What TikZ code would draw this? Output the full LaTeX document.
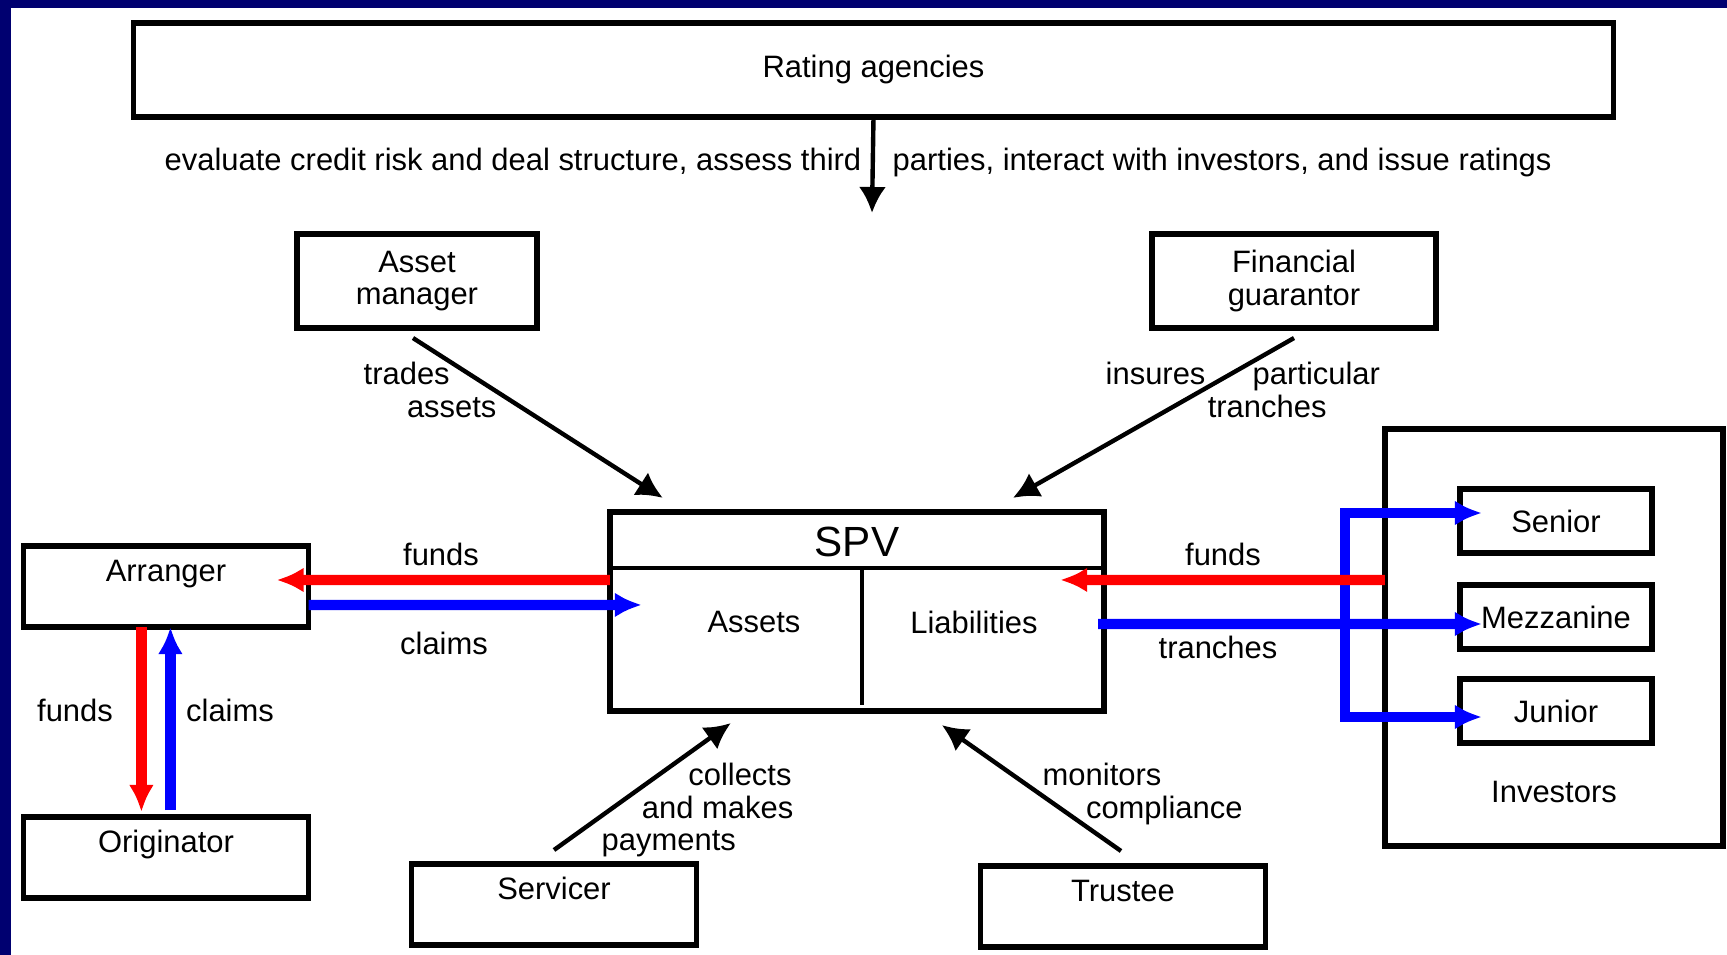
\documentclass[tikz,border=0pt]{standalone}
\usepackage{fontspec}
\setmainfont{Liberation Sans}
\usetikzlibrary{arrows.meta,calc}

\definecolor{slidenavy}{RGB}{0,0,112}
\definecolor{fundsred}{RGB}{255,0,0}
\definecolor{claimsblue}{RGB}{0,0,255}

\begin{document}
\begin{tikzpicture}[x=0.01cm, y=-0.01cm,
    font=\fontsize{8.8}{9.2}\selectfont,
    party/.style={draw, line width=1.6pt, inner sep=0pt, outer sep=0pt, align=center},
    tagbox/.style={party, anchor=north, minimum width=2.85cm, text height=0.35cm, text depth=0.46cm},
    tranche/.style={party, minimum width=1.92cm, minimum height=0.64cm},
    note/.style={inner sep=0pt},
    duty/.style={line width=1.25pt, -{Latex[length=0.26cm, width=0.27cm]}},
    money/.style={line width=2.9pt, -{Latex[length=0.27cm, width=0.25cm]}},
    funds/.style={money, fundsred},
    claims/.style={money, claimsblue}]
  \useasboundingbox (0,0) rectangle (1727,955);
  % slide frame
  \fill[slidenavy] (0,0) rectangle (11,955);
  \fill[slidenavy] (0,0) rectangle (1727,8);

  % parties
  \node[party, minimum width=14.79cm, minimum height=0.94cm] (rating) at (873.5,70) {Rating agencies};
  \node[party, minimum width=2.40cm, minimum height=0.94cm] (am) at (417,281) {Asset\\manager};
  \node[party, minimum width=2.84cm, minimum height=0.94cm] (fg) at (1294,281) {Financial\\guarantor};
  \node[party, minimum width=4.94cm, minimum height=1.99cm] (spv) at (857,611.5) {};
  \node[tagbox] (arranger) at (166,546) {Arranger};
  \node[tagbox] (originator) at (166,817) {Originator};
  \node[tagbox] (servicer) at (554,864) {Servicer};
  \node[tagbox] (trustee) at (1123,866) {Trustee};
  \node[party, anchor=north, minimum width=3.38cm, text height=3.73cm, text depth=0.44cm] (investors) at (1554,429) {Investors};
  \foreach \name/\txt/\y in {senior/Senior/521, mezz/Mezzanine/617, junior/Junior/711}
    \node[tranche] (\name) at (1556,\y) {\txt};

  % inside the SPV
  \draw[line width=0.9pt] ($(spv.north west)+(0,56)$) -- ($(spv.north east)+(0,56)$);
  \draw[line width=1.4pt] ($(spv.north)+(5,56)$) -- ($(spv.south)+(5,-6)$);
  \node[font=\fontsize{12}{14}\selectfont] (spvname) at ($(spv.north)+(0,30)$) {SPV};
  \node (assets) at (754,622) {Assets};
  \node (liabilities) at (974,622) {Liabilities};

  % roles
  \coordinate (ratingtip) at (872,213);
  \draw[duty] (rating.south) -- (ratingtip);
  \node[note, anchor=base east] (ratingleft) at (862,171) {evaluate credit risk and deal structure, assess third};
  \node[note, anchor=base west] (ratingright) at (892,171) {parties, interact with investors, and issue ratings};
  \draw[duty] ($(am.south)+(-4,10)$) -- ($(spv.north west)+(53,-14)$);
  \draw[duty] ($(fg.south)+(0,10)$) -- ($(spv.north west)+(403,-14)$);
  \draw[duty] ($(servicer.north)+(0,-14)$) -- ($(spv.south west)+(121,12)$);
  \draw[duty] ($(trustee.north)+(-2,-15)$) -- ($(spv.south west)+(332,14)$);
  \node[note, anchor=west, align=left] (tradesnote) at (363,390) {trades\\\hspace*{1.4em}assets};
  \node[note, anchor=west, align=left] (insuresnote) at (1105,390) {insures\hspace{1.25em} particular\\\hspace*{3.3em}tranches};
  \node[note, anchor=west, align=left] (collectsnote) at (601,810) {\hspace*{2.8em}collects\\\hspace*{1.3em}and makes\\payments};
  \node[note, anchor=west, align=left] (monitorsnote) at (1042,794) {monitors\\\hspace*{1.4em}compliance};

  % cash and claims
  \draw[claims] ($(arranger.north east)+(0,59)$) -- ($(spv.north west)+(32,93)$);
  \draw[claims] ($(originator.north west)+(147,-7)$) -- ($(arranger.south west)+(147,0)$);
  \coordinate (fork) at (1345,624);
  \draw[claims] ($(spv.north east)+(-6,112)$) -- ($(mezz.west)+(22,7)$);
  \draw[claims] (fork) |- ($(senior.west)+(22,-8)$);
  \draw[claims] (fork) |- ($(junior.west)+(22,6)$);
  \draw[funds] ($(spv.north west)+(0,68)$) -- ($(arranger.north east)+(-32,34)$);
  \draw[funds] ($(arranger.south west)+(118,0)$) -- ($(originator.north west)+(118,-5)$);
  \draw[funds] ($(investors.north west)+(0,151)$) -- ($(spv.north east)+(-44,68)$);
  \node (fundsleft) at (441,554) {funds};
  \node (claimsleft) at (444,643) {claims};
  \node (fundsdown) at (75,710) {funds};
  \node (claimsup) at (230,710) {claims};
  \node (fundsright) at (1223,554) {funds};
  \node (tranchesright) at (1218,647) {tranches};
\end{tikzpicture}
\end{document}
